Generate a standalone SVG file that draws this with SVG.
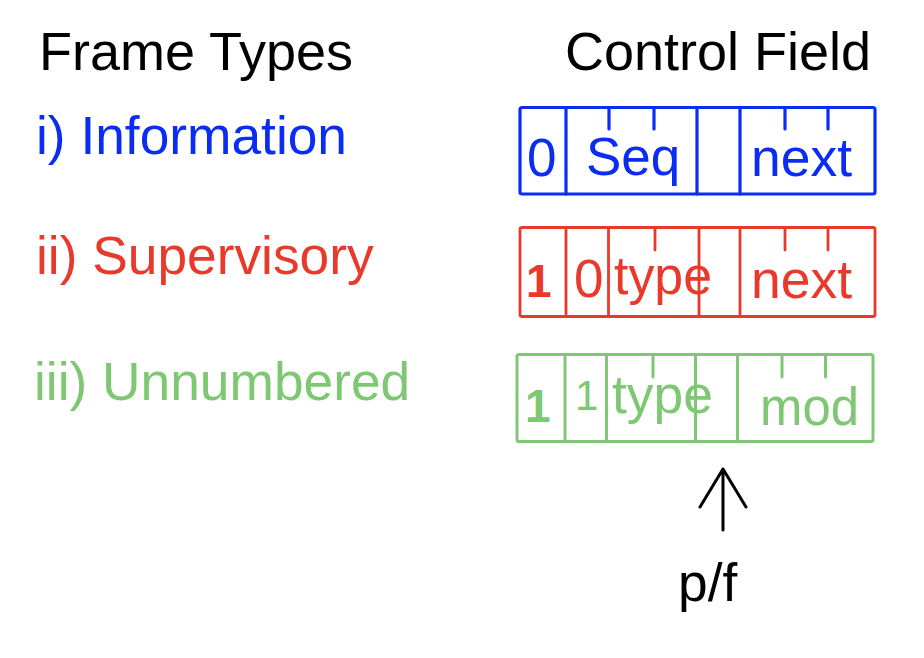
<svg xmlns="http://www.w3.org/2000/svg" width="924" height="658" viewBox="0 0 924 658">
<style>
text{font-family:"Liberation Sans",Arial,Helvetica,sans-serif;}
.h{font-size:54px;fill:#000;}
.lbl{font-size:53.3px;}
.bt{font-size:53px;}
.blue{fill:#0b2cf2;}
.red{fill:#e9392a;}
.green{fill:#7ec873;}
.sb{fill:none;stroke:#0b2cf2;stroke-width:3.2;stroke-linejoin:round;stroke-linecap:round;}
.sr{fill:none;stroke:#e9392a;stroke-width:2.8;stroke-linejoin:round;stroke-linecap:round;}
.sg{fill:none;stroke:#7ec873;stroke-width:3;stroke-linejoin:round;stroke-linecap:round;}
.arrow{fill:none;stroke:#000;stroke-width:3;stroke-linecap:round;stroke-linejoin:round;}
</style>
<rect width="924" height="658" fill="#fff"/>
<g id="title-frame-types"><text class="h" x="39" y="70">Frame Types</text></g>
<g id="title-control-field"><text class="h" x="565" y="70">Control Field</text></g>
<g id="label-information"><text class="lbl blue" x="36" y="154">i) Information</text></g>
<g id="label-supervisory"><text class="lbl red" x="36" y="274">ii) Supervisory</text></g>
<g id="label-unnumbered"><text class="lbl green" x="34" y="400">iii) Unnumbered</text></g>

<g id="box-information">
<rect class="sb" x="520" y="107.5" width="355" height="86.5" rx="2"/>
<path class="sb" d="M566 107.5V194M697 107.5V194M740 107.5V194M609 107.5V129M654 107.5V129M785 107.5V129M828 107.5V129"/>
<text class="bt blue" x="527" y="176">0</text>
<text class="bt blue" x="586" y="175">Seq</text>
<text class="bt blue" x="751" y="176" textLength="101" lengthAdjust="spacingAndGlyphs">next</text>
</g>

<g id="box-supervisory">
<rect class="sr" x="520" y="227.5" width="355" height="89" rx="2"/>
<path class="sr" d="M566 227.5V316.5M608.5 227.5V316.5M699 227.5V316.5M740 227.5V316.5M655 227.5V250M785 227.5V250M828 227.5V250"/>
<text class="red" x="526" y="297" style="font-size:46px;font-weight:bold">1</text>
<text class="bt red" x="574" y="297">0</text>
<text class="bt red" x="614" y="294" textLength="98" lengthAdjust="spacingAndGlyphs">type</text>
<text class="bt red" x="751" y="298" textLength="101" lengthAdjust="spacingAndGlyphs">next</text>
</g>

<g id="box-unnumbered">
<rect class="sg" x="517" y="354.5" width="356" height="87" rx="2"/>
<path class="sg" d="M565 354.5V441.5M606.5 354.5V441.5M695.5 354.5V441.5M737.5 354.5V441.5M653 354.5V377M782 354.5V377M825.5 354.5V377"/>
<text class="green" x="525" y="422" style="font-size:46px;font-weight:bold">1</text>
<text class="green" x="575" y="410" style="font-size:42px">1</text>
<text class="bt green" x="612" y="413" textLength="101" lengthAdjust="spacingAndGlyphs">type</text>
<text class="bt green" x="760" y="425" textLength="99" lengthAdjust="spacingAndGlyphs">mod</text>
</g>

<g id="connectors">
<path class="arrow" d="M723 530V469M700 507L723 469L746 507"/>
</g>
<g id="label-pf"><text class="lbl" x="678" y="601" style="fill:#000">p/f</text></g>
</svg>
